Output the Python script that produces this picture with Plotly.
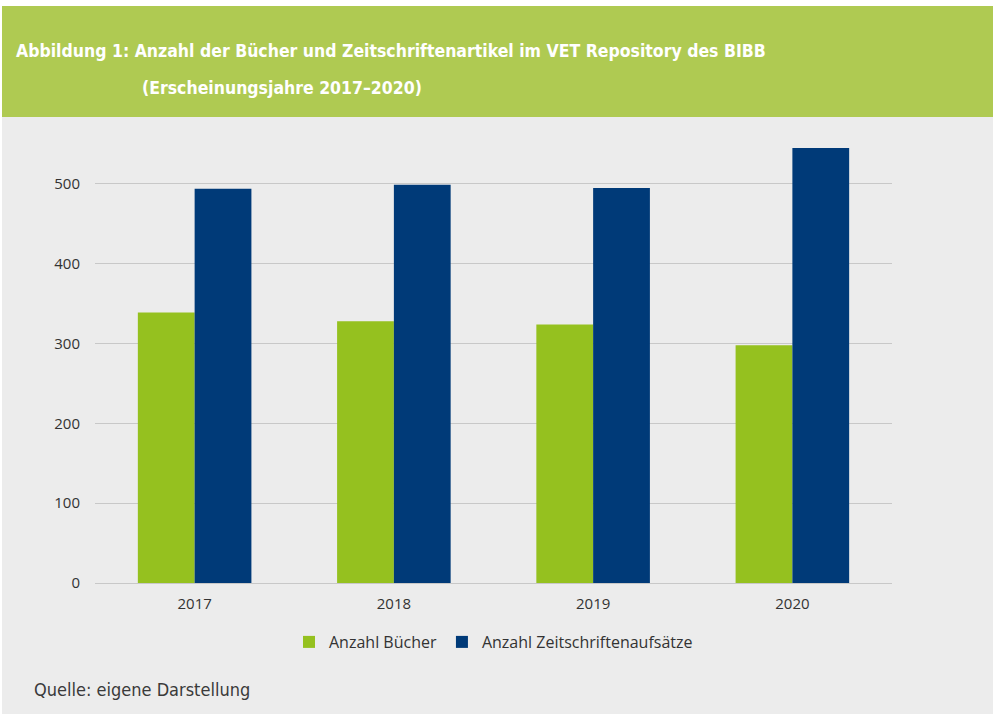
import plotly.graph_objects as go

years = ["2017", "2018", "2019", "2020"]
buecher = [339, 328, 324, 298]
zeitschriften = [494, 499, 495, 545]
y_ticks = [0, 100, 200, 300, 400, 500]
series_names = ["Anzahl Bücher", "Anzahl Zeitschriftenaufsätze"]

W, H = 993, 714
L, R, T, B = 95, 101, 136, 131
PW, PH = W - L - R, H - T - B

def px(x):
    return (x - L) / PW

def py(y):
    return (H - B - y) / PH

COND = "DejaVu Sans Condensed, Liberation Sans Narrow, sans-serif"

fig = go.Figure()
fig.add_trace(go.Bar(x=years, y=buecher, name=series_names[0],
                     marker=dict(color="#95c11f", line=dict(width=0))))
fig.add_trace(go.Bar(x=years, y=zeitschriften, name=series_names[1],
                     marker=dict(color="#003a78", line=dict(width=0))))

shapes = [
    dict(type="rect", xref="paper", yref="paper", x0=px(0), x1=px(W), y0=py(0), y1=py(6),
         fillcolor="white", line=dict(width=0), layer="below"),
    dict(type="rect", xref="paper", yref="paper", x0=px(0), x1=px(2), y0=py(0), y1=py(H),
         fillcolor="white", line=dict(width=0), layer="below"),
    dict(type="rect", xref="paper", yref="paper", x0=px(2), x1=px(W), y0=py(6), y1=py(117),
         fillcolor="#afca52", line=dict(width=0), layer="below"),
]

title_font = dict(family=COND, size=17.5, color="white")
annotations = [
    dict(text="<b>Abbildung 1: Anzahl der Bücher und Zeitschriftenartikel im VET Repository des BIBB</b>",
         xref="paper", yref="paper", x=px(14), y=py(51), xanchor="left", yanchor="middle",
         showarrow=False, font=title_font),
    dict(text="<b>(Erscheinungsjahre 2017–2020)</b>",
         xref="paper", yref="paper", x=px(140), y=py(88), xanchor="left", yanchor="middle",
         showarrow=False, font=title_font),
    dict(text="Quelle: eigene Darstellung",
         xref="paper", yref="paper", x=px(32), y=py(689), xanchor="left", yanchor="middle",
         showarrow=False,
         font=dict(family=COND, size=18, color="#3a3a3a")),
]

fig.update_layout(
    width=W, height=H,
    margin=dict(l=L, r=R, t=T, b=B, pad=0),
    paper_bgcolor="#ececec", plot_bgcolor="#ececec",
    barmode="group", bargap=0.43, bargroupgap=0,
    font=dict(family="Open Sans, Noto Sans, sans-serif", size=15, color="#333333"),
    showlegend=True,
    legend=dict(orientation="h", x=0.5, xanchor="center", y=py(642), yanchor="middle",
                font=dict(size=16, color="#333333"), bgcolor="rgba(0,0,0,0)",
                itemwidth=30, tracegroupgap=0),
    shapes=shapes, annotations=annotations,
    xaxis=dict(showgrid=False, ticks="", showline=False, ticklabelstandoff=10,
               tickfont=dict(size=15, color="#333333")),
    yaxis=dict(range=[0, 560], tickvals=y_ticks, showgrid=True, gridcolor="#c8c8c8",
               gridwidth=1, zeroline=True, zerolinecolor="#c8c8c8", zerolinewidth=1,
               ticks="", showline=False, ticklabelstandoff=14,
               tickfont=dict(size=15, color="#333333")),
)

fig.write_html("out.html", config={"displayModeBar": False},
               post_script="document.body.style.margin='0px';document.body.style.padding='0px';")
